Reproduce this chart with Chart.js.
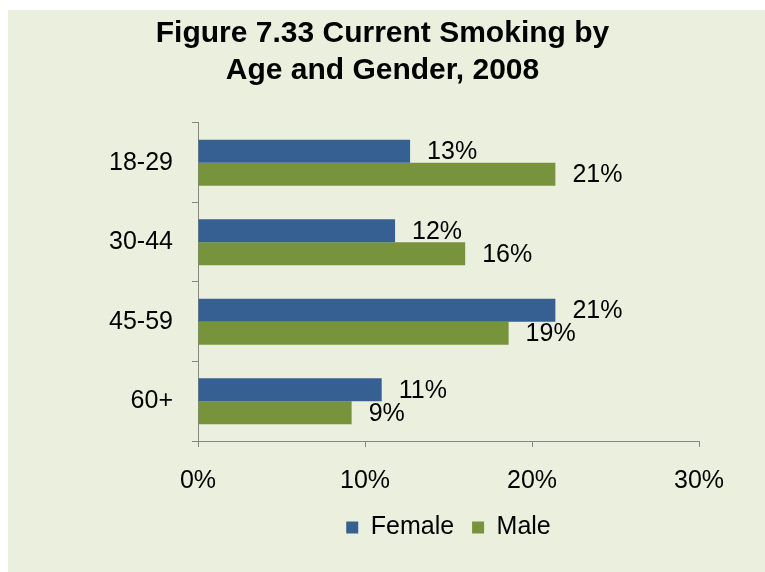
<!DOCTYPE html>
<html>
<head>
<meta charset="utf-8">
<script src="https://cdn.jsdelivr.net/npm/chart.js@4.4.1/dist/chart.umd.min.js"></script>
<style>
  html, body { margin: 0; padding: 0; background: #ffffff; }
  #contenedor { width: 765px; height: 572px; position: relative; }
</style>
</head>
<body>
<div id="contenedor">
  <canvas id="grafico_barras" width="765" height="572"></canvas>
</div>
<script>
// datos del grafico
const edades = ['18-29', '30-44', '45-59', '60+']
const mujeres = [12.7, 11.8, 21.4, 11.0]
const hombres = [21.4, 16.0, 18.6, 9.2]
const ticksX = [0, 10, 20, 30]

const fuente = "'Liberation Sans', Arial, sans-serif"
const gris = '#868686'

// fondo verde claro del recuadro
const fondo = {
    id: 'fondo',
    beforeDraw: (chart) => {
        const ctx = chart.ctx
        ctx.save()
        ctx.fillStyle = '#EBF0DE'
        ctx.fillRect(8, 10, chart.width - 8, chart.height - 10)
        ctx.restore()
    }
}

// etiquetas de valor al final de cada barra
const etiquetas = {
    id: 'etiquetas',
    afterDatasetsDraw: (chart) => {
        const ctx = chart.ctx
        ctx.save()
        ctx.font = '25px ' + fuente
        ctx.fillStyle = '#000000'
        ctx.textBaseline = 'middle'
        ctx.textAlign = 'left'
        chart.data.datasets.forEach((ds, i) => {
            const meta = chart.getDatasetMeta(i)
            meta.data.forEach((barra, j) => {
                ctx.fillText(Math.round(ds.data[j]) + '%', barra.x + 17, barra.y + 1)
            })
        })
        ctx.restore()
    }
}

const ctx = document.getElementById('grafico_barras').getContext('2d')
const myChart = new Chart(ctx, {
    type: 'bar',
    data: {
        labels: edades,
        datasets: [{
            label: 'Female',
            data: mujeres,
            backgroundColor: '#376092',
            categoryPercentage: 0.58,
            barPercentage: 1
        }, {
            label: 'Male',
            data: hombres,
            backgroundColor: '#77933C',
            categoryPercentage: 0.58,
            barPercentage: 1
        }]
    },
    options: {
        indexAxis: 'y',
        responsive: false,
        animation: false,
        layout: {
            padding: { left: 66, right: 66, top: 0, bottom: 22 }
        },
        scales: {
            x: {
                min: ticksX[0],
                max: ticksX[ticksX.length - 1],
                afterBuildTicks: (scale) => {
                    scale.ticks = ticksX.map(v => ({ value: v }))
                },
                afterFit: (scale) => { scale.height = 56 },
                ticks: {
                    callback: (v) => v + '%',
                    color: '#000000',
                    font: { family: fuente, size: 25 },
                    padding: 19,
                    maxRotation: 0
                },
                grid: {
                    display: true,
                    drawOnChartArea: false,
                    drawTicks: true,
                    tickLength: 6,
                    color: gris
                },
                border: { display: true, color: gris, width: 1 }
            },
            y: {
                afterFit: (scale) => { scale.width = 132 },
                ticks: {
                    color: '#000000',
                    font: { family: fuente, size: 25 },
                    padding: 19
                },
                grid: {
                    display: true,
                    offset: true,
                    drawOnChartArea: false,
                    drawTicks: true,
                    tickLength: 6,
                    color: gris
                },
                border: { display: true, color: gris, width: 1 }
            }
        },
        plugins: {
            title: {
                display: true,
                text: ['Figure 7.33 Current Smoking by', 'Age and Gender, 2008'],
                color: '#000000',
                font: { family: fuente, size: 30, weight: 'bold', lineHeight: 1.233 },
                padding: { top: 15, bottom: 34 }
            },
            legend: {
                position: 'bottom',
                fullSize: false,
                labels: {
                    color: '#000000',
                    font: { family: fuente, size: 25 },
                    boxWidth: 12,
                    boxHeight: 12,
                    padding: 18
                }
            },
            tooltip: { enabled: false }
        }
    },
    plugins: [fondo, etiquetas]
})
</script>
</body>
</html>
